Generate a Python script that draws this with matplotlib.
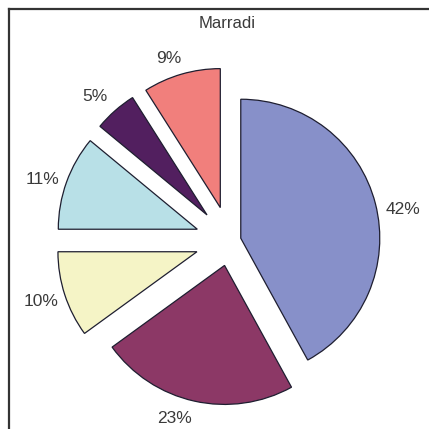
import matplotlib.pyplot as plt
from matplotlib.lines import Line2D
from matplotlib.transforms import offset_copy

W = 429
H = 429

title = 'Marradi'
shares = [42, 23, 10, 11, 5, 9]
labels = ['42%', '23%', '10%', '11%', '5%', '9%']
colors = ['#8790c9', '#8c3866', '#f5f4c6', '#b8e0e7', '#521f5f', '#f17f7c']
explode = [0.08, 0.18, 0.25, 0.25, 0.25, 0.25]

# pie centre and radius in pixels
CX, CY, R = 230, 241, 139
# small nudges of the percent labels, in pixels
label_dx = [5, -15, -1, -1.5, -5, -6]
label_dy = [-11.5, 5.5, 0, -5, -3.5, -7]


def main():
    fig = plt.figure(figsize=(W / 100, H / 100), dpi=100)
    ax = fig.add_axes([0, 0, 1, 1])
    ax.axis('off')

    wedges, texts = ax.pie(shares, labels=labels, colors=colors, explode=explode,
                           startangle=90, counterclock=False, labeldistance=1.17,
                           wedgeprops=dict(edgecolor='#1e1e30', linewidth=0.9),
                           textprops=dict(fontsize=12.5, color='#3a3a3a',
                                          family='Liberation Sans'))
    for t, dx, dy in zip(texts, label_dx, label_dy):
        t.set_horizontalalignment('center')
        t.set_verticalalignment('center')
        t.set_transform(offset_copy(ax.transData, fig=fig, x=dx, y=dy, units='dots'))

    ax.set_xlim(-CX / R, (W - CX) / R)
    ax.set_ylim(-(H - CY) / R, CY / R)
    ax.set_aspect('auto')

    fig.text(227 / W, 1 - 23 / H, title, ha='center', va='center', fontsize=12,
             color='#3a3a3a', family='Liberation Sans')

    # frame (only top and left edges visible in the crop)
    fig.add_artist(Line2D([9 / W, 1], [1 - 9 / H, 1 - 9 / H], color='#333333', lw=1.6))
    fig.add_artist(Line2D([9 / W, 9 / W], [0, 1 - 9 / H], color='#333333', lw=1.6))

    fig.savefig('out.png', dpi=100, facecolor='white')


if __name__ == '__main__':
    main()
